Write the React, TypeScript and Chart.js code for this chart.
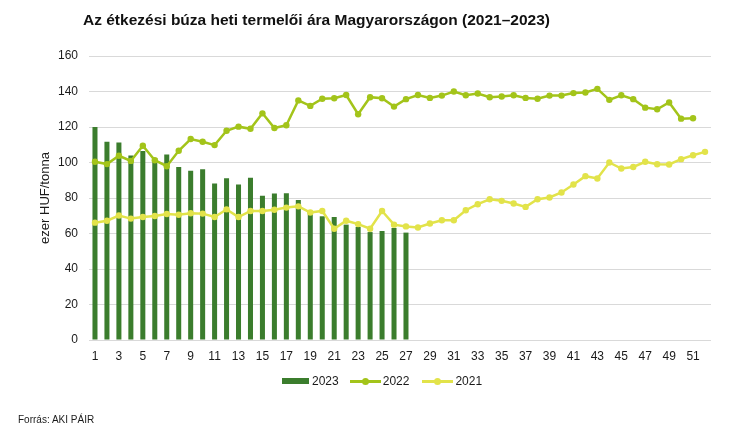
import React, { useEffect, useRef } from "react";
import { Chart, registerables } from "chart.js";

Chart.register(...registerables);

const weeks: string[] = [
  "1","2","3","4","5","6","7","8","9","10","11","12","13","14","15","16","17","18","19","20",
  "21","22","23","24","25","26","27","28","29","30","31","32","33","34","35","36","37","38","39","40",
  "41","42","43","44","45","46","47","48","49","50","51","52",
];

const price2023: number[] = [
  120, 111.7, 111.3, 104, 106.5, 102.5, 104.5, 97.5, 95.3, 96.2,
  88.1, 91.1, 87.6, 91.4, 81.2, 82.5, 82.7, 78.9, 72, 69.7,
  69.3, 65, 63.7, 60.8, 61.4, 63.1, 60.5,
];

const price2022: number[] = [
  100.4, 99.1, 103.8, 100.9, 109.4, 101.3, 97.9, 106.6, 113.2, 111.7,
  109.8, 117.9, 120.2, 119, 127.7, 119.4, 121, 135, 131.9, 135.9,
  136.2, 138, 127.2, 136.8, 136.2, 131.5, 135.7, 138, 136.4, 137.7,
  140, 137.9, 138.9, 136.8, 137.2, 137.9, 136.4, 135.9, 137.7, 137.7,
  139.1, 139.4, 141.5, 135.3, 137.9, 135.7, 130.9, 130, 133.8, 124.7, 124.9,
];

const price2021: number[] = [
  66.1, 67.2, 70.1, 68.4, 69.3, 69.9, 71, 70.6, 71.4, 71.2,
  69.3, 73.6, 69.3, 72.7, 72.7, 73.4, 74.6, 75.3, 71.8, 72.7,
  62.7, 67.2, 65.3, 62.7, 72.7, 65, 64, 63.4, 65.6, 67.5,
  67.5, 73.1, 76.5, 79.3, 78.4, 76.9, 75, 79.3, 80.3, 83.1,
  87.6, 92.3, 91, 100, 96.6, 97.5, 100.4, 99, 98.9, 101.9, 104.1, 106,
];

const yTicks: number[] = [0, 20, 40, 60, 80, 100, 120, 140, 160];

const seriesNames: string[] = ["2023", "2022", "2021"];

const titleText = "Az étkezési búza heti termelői ára Magyarországon (2021–2023)";
const yTitle = "ezer HUF/tonna";
const sourceText = "Forrás: AKI PÁIR";

const C23 = "#3b7d2d";
const C22 = "#a3c41a";
const C21 = "#e2e34a";
const FONT = '"Liberation Sans", Arial, Helvetica, sans-serif';

export default function App() {
  const ref = useRef<HTMLCanvasElement | null>(null);

  useEffect(() => {
    if (!ref.current) return;
    const chart = new Chart(ref.current, {
      type: "bar",
      data: {
        labels: weeks,
        datasets: [
          {
            type: "bar",
            label: seriesNames[0],
            data: price2023,
            backgroundColor: C23,
            borderWidth: 0,
            barPercentage: 0.42,
            categoryPercentage: 1,
            order: 3,
          },
          {
            type: "line",
            label: seriesNames[1],
            data: price2022,
            borderColor: C22,
            backgroundColor: C22,
            borderWidth: 2.5,
            pointRadius: 3.2,
            pointBorderWidth: 0,
            pointBackgroundColor: C22,
            tension: 0,
            order: 1,
          },
          {
            type: "line",
            label: seriesNames[2],
            data: price2021,
            borderColor: C21,
            backgroundColor: C21,
            borderWidth: 2.5,
            pointRadius: 3.2,
            pointBorderWidth: 0,
            pointBackgroundColor: C21,
            tension: 0,
            order: 2,
          },
        ],
      },
      options: {
        responsive: false,
        animation: false,
        layout: { padding: { top: 56, right: 39, bottom: 70, left: 0 } },
        plugins: {
          legend: { display: false },
          title: { display: false },
          tooltip: { enabled: false },
        },
        scales: {
          x: {
            offset: true,
            grid: { display: false, drawTicks: false },
            border: { display: false },
            ticks: {
              autoSkip: false,
              maxRotation: 0,
              minRotation: 0,
              padding: 9,
              color: "#1a1a1a",
              font: { family: FONT, size: 12 },
              callback: (_v: any, i: number) => (i % 2 === 0 ? weeks[i] : ""),
            },
            afterFit: (s: any) => {
              s.height = 30;
            },
          },
          y: {
            min: yTicks[0],
            max: yTicks[yTicks.length - 1],
            afterBuildTicks: (s: any) => {
              s.ticks = yTicks.map((v) => ({ value: v }));
            },
            grid: { color: "#d9d9d9", lineWidth: 1, drawTicks: false },
            border: { display: false },
            ticks: {
              padding: 11,
              color: "#1a1a1a",
              font: { family: FONT, size: 12 },
            },
            title: {
              display: true,
              text: yTitle,
              color: "#1a1a1a",
              font: { family: FONT, size: 13 },
              padding: { top: 38, bottom: 0 },
            },
            afterFit: (s: any) => {
              s.width = 89;
            },
          },
        },
      },
    });
    return () => chart.destroy();
  }, []);

  const legendLine = (color: string) => (
    <span style={{ position: "relative", display: "inline-block", width: 31, height: 8 }}>
      <span
        style={{
          position: "absolute",
          left: 0,
          top: 2.5,
          width: 31,
          height: 3,
          background: color,
        }}
      />
      <span
        style={{
          position: "absolute",
          left: 12,
          top: 0.5,
          width: 7,
          height: 7,
          borderRadius: "50%",
          background: color,
        }}
      />
    </span>
  );

  return (
    <div
      style={{
        position: "absolute",
        left: 0,
        top: 0,
        width: 750,
        height: 440,
        background: "#fff",
        fontFamily: FONT,
        color: "#1a1a1a",
        overflow: "hidden",
      }}
    >
      <canvas ref={ref} width={750} height={440} style={{ position: "absolute", left: 0, top: 0 }} />
      <div
        style={{
          position: "absolute",
          left: 83,
          top: 11,
          fontSize: 15.5,
          fontWeight: "bold",
          lineHeight: "18px",
          whiteSpace: "nowrap",
          color: "#111",
        }}
      >
        {titleText}
      </div>
      <div
        style={{
          position: "absolute",
          left: 282,
          top: 373,
          height: 16,
          display: "flex",
          alignItems: "center",
          fontSize: 12,
          whiteSpace: "nowrap",
        }}
      >
        <span style={{ display: "inline-block", width: 27, height: 6, background: C23 }} />
        <span style={{ marginLeft: 3 }}>{seriesNames[0]}</span>
        <span style={{ marginLeft: 11, display: "inline-flex" }}>{legendLine(C22)}</span>
        <span style={{ marginLeft: 2 }}>{seriesNames[1]}</span>
        <span style={{ marginLeft: 13, display: "inline-flex" }}>{legendLine(C21)}</span>
        <span style={{ marginLeft: 2 }}>{seriesNames[2]}</span>
      </div>
      <div
        style={{
          position: "absolute",
          left: 18,
          top: 414,
          fontSize: 10,
          lineHeight: "12px",
          whiteSpace: "nowrap",
        }}
      >
        {sourceText}
      </div>
    </div>
  );
}
